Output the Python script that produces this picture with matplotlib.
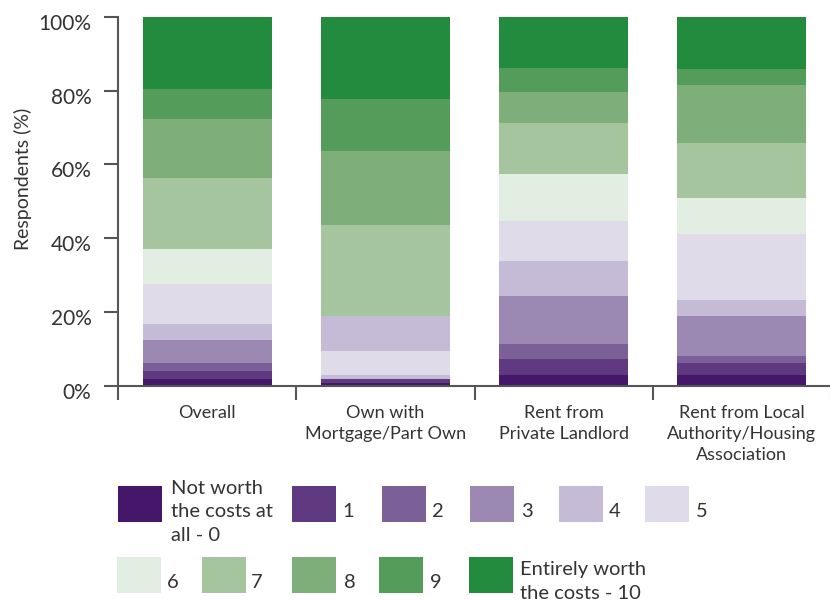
import matplotlib.pyplot as plt
import matplotlib.transforms as mtransforms
from matplotlib.patches import Rectangle

plt.rcParams['font.family'] = ['Lato', 'DejaVu Sans']

# data (percent of respondents)
groups = ["Overall", "Own with\nMortgage/Part Own", "Rent from\nPrivate Landlord",
          "Rent from Local\nAuthority/Housing\nAssociation"]
levels = ["Not worth\nthe costs at\nall - 0", "1", "2", "3", "4", "5",
          "6", "7", "8", "9", "Entirely worth\nthe costs - 10"]
score_0 = [1.9, 0.8, 3.0, 3.0]
score_1 = [2.2, 1.1, 4.3, 3.2]
score_2 = [2.1, 1.1, 4.1, 1.9]
score_3 = [6.2, 6.5, 13.0, 10.8]
score_4 = [4.4, 9.4, 9.5, 4.3]
score_5 = [10.8, 0.0, 10.8, 17.9]
score_6 = [9.4, 0.0, 12.7, 9.7]
score_7 = [19.2, 24.6, 13.8, 14.9]
score_8 = [16.0, 20.0, 8.4, 15.9]
score_9 = [8.3, 14.1, 6.4, 4.3]
score_10 = [19.8, 22.4, 14.1, 14.1]
scores = [score_0, score_1, score_2, score_3, score_4, score_5,
          score_6, score_7, score_8, score_9, score_10]

colours = ['#46166b', '#5f3a80', '#7a6096', '#9b89b3', '#c6bbd6', '#dfdbe9',
           '#e3eee3', '#a5c59f', '#7eaf7b', '#549c5a', '#238b3d']
# the reference draws a few bands of the second bar in other shades
colour_swaps = {1: {2: 4, 3: 5}}

W, H = 830, 601
fig = plt.figure(figsize=(W / 100, H / 100), dpi=100)
ax = fig.add_axes([118 / W, 215 / H, 713 / W, 369.3 / H])

bottoms = [0.0] * len(groups)
for lv, vals in enumerate(scores):
    for g, v in enumerate(vals):
        c = colours[colour_swaps.get(g, {}).get(lv, lv)]
        ax.bar(g, v, width=0.725, bottom=bottoms[g], color=c, linewidth=0)
        bottoms[g] += v

ax.set_xlim(-0.5, 3.5)
ax.set_ylim(0, 100)
ax.spines[['top', 'right']].set_visible(False)
for s in ['left', 'bottom']:
    ax.spines[s].set_color('#555555')
    ax.spines[s].set_linewidth(1.5)

ax.set_yticks(range(0, 101, 20))
ax.set_yticklabels([f"{t}%" for t in range(0, 101, 20)], fontsize=15, color='#333333')
ax.tick_params(axis='y', length=10, width=1.5, color='#555555', pad=9)
shift = mtransforms.ScaledTranslation(0, -5 / 100, fig.dpi_scale_trans)
for lab in ax.get_yticklabels():
    lab.set_transform(lab.get_transform() + shift)
ax.set_ylabel("Respondents (%)", fontsize=14, color='#333333')
ax.yaxis.set_label_coords(-0.121, 0.56)

ax.set_xticks(range(len(groups)))
ax.set_xticklabels(groups, fontsize=13, color='#333333', linespacing=1.35)
ax.tick_params(axis='x', which='major', length=0, pad=14)
ax.set_xticks([-0.5, 0.5, 1.5, 2.5, 3.5], minor=True)
ax.tick_params(axis='x', which='minor', length=10, width=1.5, color='#555555')

# legend, laid out by hand as two flowing rows
swatch_x = [118, 292, 382, 470, 559, 645, 117, 202, 292, 379, 469]
swatch_top = [486] * 6 + [557] * 5
text_x = [171, 342, 432, 521, 609, 696, 167, 251, 344, 430, 520]
text_base = [541, 517, 517, 517, 517, 517, 588, 588, 588, 588, 599]  # last line
for i, lab in enumerate(levels):
    fig.add_artist(Rectangle((swatch_x[i] / W, 1 - (swatch_top[i] + 36) / H),
                             44 / W, 36 / H, transform=fig.transFigure,
                             color=colours[i], linewidth=0))
    fig.text(text_x[i] / W, 1 - text_base[i] / H, lab, fontsize=14.5,
             color='#333333', va='baseline', ha='left', linespacing=1.47)

fig.savefig("out.png", dpi=100)
